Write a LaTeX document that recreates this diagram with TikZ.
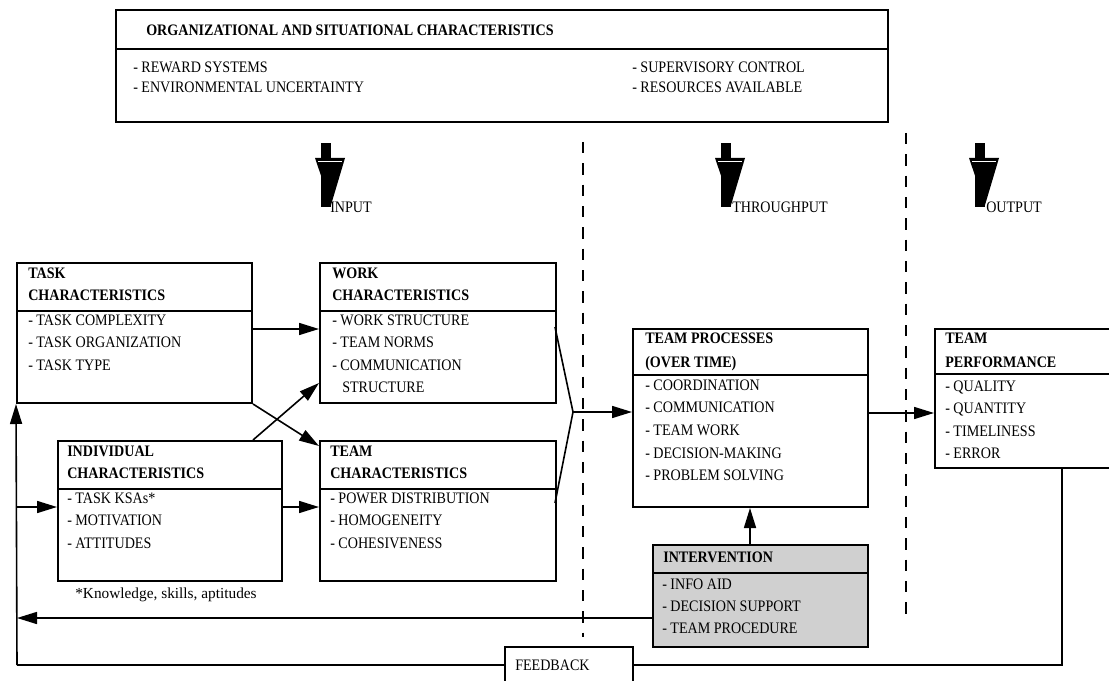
\documentclass[tikz,border=0pt]{standalone}
\usepackage{fontspec}
\setmainfont{Liberation Serif}[FakeStretch=0.88]
\newfontfamily\plainserif{Liberation Serif}
\usetikzlibrary{arrows.meta,fit,calc}
\definecolor{intfill}{RGB}{208,208,208}
\begin{document}
\begin{tikzpicture}[x=0.75pt,y=-0.75pt,
  box/.style={draw,line width=1.5pt,inner sep=0pt},
  hd/.style={anchor=west,inner sep=0pt,text height=7.9pt,text depth=0pt,font=\fontsize{12}{14}\selectfont\bfseries},
  itm/.style={anchor=west,inner sep=0pt,text height=7.9pt,text depth=0pt,font=\fontsize{12}{14}\selectfont},
  conn/.style={line width=1.2pt,-{Triangle[length=15pt,width=9pt]}},
  ln/.style={line width=1.2pt},
  dashline/.style={line width=1.5pt,dash pattern=on 8.5pt off 7.5pt},
  divider/.style={line width=1.5pt},
  bigarrow/.pic={
    \fill (-5,0) rectangle (5,64);
    \fill (-11,15) -- (19,15) -- (5,62) -- cycle;
    \draw[white,line width=0.6pt] (-8,18) -- (16,18);
  }
]
\useasboundingbox (0,0) rectangle (1109,681);
\clip (0,0) rectangle (1109,681);

% ---------- top box ----------
\node[box,fit={(116,10)(888,122)}] (org) {};
\draw[divider] (116,49) -- (888,49);
\node[hd] (orgt) at (146,30) {ORGANIZATIONAL AND SITUATIONAL CHARACTERISTICS};
\node[itm] (org1) at (133,67) {- REWARD SYSTEMS};
\node[itm] (org2) at (133,87) {- ENVIRONMENTAL UNCERTAINTY};
\node[itm] (org3) at (632,67) {- SUPERVISORY CONTROL};
\node[itm] (org4) at (632,87) {- RESOURCES AVAILABLE};

% ---------- big arrows ----------
\pic at (326,143) {bigarrow};
\pic at (726,143) {bigarrow};
\pic at (980,143) {bigarrow};
\node[itm] (lin) at (330,207) {INPUT};
\node[itm] (lthr) at (732,207) {THROUGHPUT};
\node[itm] (lout) at (986,207) {OUTPUT};

% ---------- dashed separators ----------
\draw[dashline] (583,142) -- (583,637);
\draw[dashline] (906,133) -- (906,618);

% ---------- task ----------
\node[box,fit={(17,263)(252,403)}] (task) {};
\draw[divider] (17,311) -- (252,311);
\node[hd] (task1) at (28,273) {TASK};
\node[hd] (task2) at (28,295) {CHARACTERISTICS};
\node[itm] (task3) at (28,320) {- TASK COMPLEXITY};
\node[itm] (task4) at (28,342) {- TASK ORGANIZATION};
\node[itm] (task5) at (28,365) {- TASK TYPE};

% ---------- work ----------
\node[box,fit={(320,263)(556,403)}] (work) {};
\draw[divider] (320,311) -- (556,311);
\node[hd] (work1) at (332,273) {WORK};
\node[hd] (work2) at (332,295) {CHARACTERISTICS};
\node[itm] (work3) at (332,320) {- WORK STRUCTURE};
\node[itm] (work4) at (332,342) {- TEAM NORMS};
\node[itm] (work5) at (332,365) {- COMMUNICATION};
\node[itm] (work6) at (342,387) {STRUCTURE};

% ---------- individual ----------
\node[box,fit={(58,441)(282,581)}] (indiv) {};
\draw[divider] (58,489) -- (282,489);
\node[hd] (ind1) at (67,451) {INDIVIDUAL};
\node[hd] (ind2) at (67,473) {CHARACTERISTICS};
\node[itm] (ind3) at (67,498) {- TASK KSAs*};
\node[itm] (ind4) at (67,520) {- MOTIVATION};
\node[itm] (ind5) at (67,543) {- ATTITUDES};
\node[itm,font=\fontsize{11.5}{13}\plainserif] (foot) at (75,593) {*Knowledge, skills, aptitudes};

% ---------- team ----------
\node[box,fit={(320,441)(556,581)}] (team) {};
\draw[divider] (320,489) -- (556,489);
\node[hd] (team1) at (330,451) {TEAM};
\node[hd] (team2) at (330,473) {CHARACTERISTICS};
\node[itm] (team3) at (330,498) {- POWER DISTRIBUTION};
\node[itm] (team4) at (330,520) {- HOMOGENEITY};
\node[itm] (team5) at (330,543) {- COHESIVENESS};

% ---------- team processes ----------
\node[box,fit={(633,329)(868,507)}] (tp) {};
\draw[divider] (633,375) -- (868,375);
\node[hd] (tp1) at (645,338) {TEAM PROCESSES};
\node[hd] (tp2) at (645,362) {(OVER TIME)};
\node[itm] (tp3) at (645,385) {- COORDINATION};
\node[itm] (tp4) at (645,407) {- COMMUNICATION};
\node[itm] (tp5) at (645,430) {- TEAM WORK};
\node[itm] (tp6) at (645,453) {- DECISION-MAKING};
\node[itm] (tp7) at (645,475) {- PROBLEM SOLVING};

% ---------- team performance ----------
\node[box,fit={(935,329)(1114,468)}] (perf) {};
\draw[divider] (935,374) -- (1114,374);
\node[hd] (pf1) at (945,338) {TEAM};
\node[hd] (pf2) at (945,362) {PERFORMANCE};
\node[itm] (pf3) at (945,386) {- QUALITY};
\node[itm] (pf4) at (945,408) {- QUANTITY};
\node[itm] (pf5) at (945,431) {- TIMELINESS};
\node[itm] (pf6) at (945,453) {- ERROR};

% ---------- intervention ----------
\node[box,fill=intfill,fit={(653,545)(868,647)}] (interv) {};
\draw[divider] (653,573) -- (868,573);
\node[hd] (iv1) at (663,557) {INTERVENTION};
\node[itm] (iv2) at (662,584) {- INFO AID};
\node[itm] (iv3) at (662,606) {- DECISION SUPPORT};
\node[itm] (iv4) at (662,628) {- TEAM PROCEDURE};

% ---------- feedback box ----------
\node[box,fit={(505,647)(633,700)}] (fb) {};
\node[itm] (fbt) at (515,665) {FEEDBACK};

% ---------- helper coordinates ----------
\coordinate (lb) at (17,665);
\coordinate (rb) at (1062,665);
\coordinate (lk) at (17,507);
\coordinate (li) at (17,618);
\coordinate (cv) at (573,412);
\coordinate (tpo) at (868,413);
\coordinate (ivo) at (750,545);

% ---------- connectors ----------
\draw[conn] ([yshift=3pt]task.east) -- ([yshift=3pt]work.west);
\draw[conn] (task.south east) -- ([yshift=-4.5pt]team.north west);
\draw[conn] ([xshift=-22.5pt]indiv.north east) -- ([yshift=15.75pt]work.south west);
\draw[conn] ([yshift=3pt]indiv.east) -- ([yshift=3pt]team.west);
\draw[ln] ([xshift=-1.5pt,yshift=4.5pt]work.east) -- (cv) -- ([xshift=-1.5pt,yshift=6pt]team.east);
\draw[conn] (cv) -- (cv -| tp.west);
\draw[conn] (tpo) -- (tpo -| perf.west);
\draw[conn] (ivo) -- (ivo |- tp.south);
\draw[conn] (interv.west |- li) -- (li);
\draw[conn] (lk) -- (lk -| indiv.west);
\draw[ln] (perf.south -| rb) -- (rb) -- (fb.east |- rb);
\draw[ln] (fb.west |- lb) -- (lb);
\draw[conn] (lb) -- (task.south west);
\end{tikzpicture}
\end{document}
